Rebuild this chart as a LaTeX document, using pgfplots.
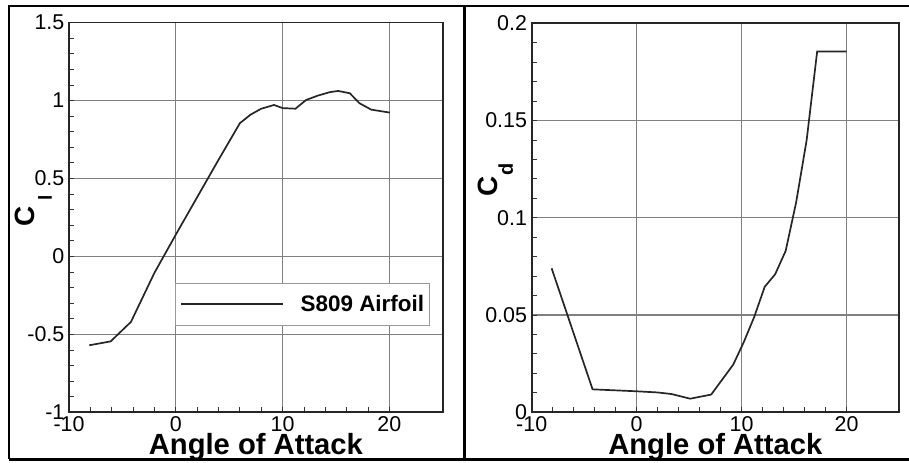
\documentclass[border=0pt]{standalone}
\usepackage{fontspec}
\setmainfont{Liberation Sans}
\usepackage{pgfplots}
\pgfplotsset{compat=1.18}

% S809 airfoil: lift coefficient vs angle of attack
\pgfplotstableread{
aoa   cl
-8.1  -0.570
-6.1  -0.545
-4.2  -0.420
-2.0  -0.105
 0.0   0.140
 2.0   0.380
 4.0   0.620
 6.0   0.855
 7.0   0.910
 8.0   0.948
 9.2   0.972
10.0   0.952
11.2   0.948
12.2   1.004
13.3   1.032
14.4   1.054
15.2   1.062
16.3   1.047
17.2   0.983
18.3   0.942
20.05  0.923
}\liftdata

% S809 airfoil: drag coefficient vs angle of attack
\pgfplotstableread{
aoa   cd
-8.1  0.0740
-4.2  0.0118
 0.0  0.0108
 2.0  0.0102
 3.3  0.0094
 5.1  0.0070
 7.1  0.0091
 9.2  0.0245
10.2  0.0360
11.2  0.0490
12.2  0.0645
13.2  0.0710
14.2  0.0830
15.2  0.1080
16.2  0.1400
17.2  0.1855
20.0  0.1855
}\dragdata

\pgfplotsset{
  polarstyle/.style={
    scale only axis,
    anchor=south west,
    xmin=-10, xmax=25,
    xtick={-10,0,10,20},
    minor tick num=4,
    tick pos=left,
    tick align=inside,
    major tick length=5bp,
    minor tick length=5bp,
    every tick/.style={black!80, line width=0.9bp},
    grid=major,
    major grid style={black!50, line width=1.1bp},
    axis line style={black!85, line width=1.6bp},
    /pgf/number format/assume math mode=true,
    tick label style={font=\fontsize{21.5}{21.5}\selectfont, inner sep=0pt},
    xticklabel style={anchor=north, yshift=-4.5bp},
    yticklabel style={anchor=east, xshift=-4.5bp},
    xlabel={Angle of Attack},
    xlabel style={font=\fontsize{29.3}{29.3}\selectfont\bfseries,
      at={(axis description cs:0.5,0)}, anchor=base, yshift=-42.7bp, inner sep=0pt},
    ylabel style={inner sep=0pt, anchor=base west, rotate=0},
  },
  curve/.style={black!85, line width=1.7bp, no markers},
}

\begin{document}
\begin{tikzpicture}[x=1bp, y=1bp]
\useasboundingbox (0,0) rectangle (909,463);

% panel frames
\draw[line width=2bp] (9,3.5) -- (9,457.2) -- (915,457.2);
\draw[line width=2.5bp] (9,3.5) -- (915,3.5);
\draw[line width=2.5bp] (464.5,3.5) -- (464.5,457.2);

% lift coefficient
\begin{axis}[polarstyle,
  at={(69bp,50.7bp)},
  width=373.8bp, height=389.6bp,
  ymin=-1, ymax=1.5,
  ytick={-1,-0.5,0,0.5,1,1.5},
  yticklabels={-1,-0.5,0,0.5,1,1.5},
  ylabel={\fontsize{28}{28}\selectfont\bfseries C\hspace{6bp}\raisebox{-17bp}{\fontsize{19}{19}\selectfont l}},
  ylabel style={at={(axis description cs:-0.091,0.4756)}},
  legend style={at={(axis description cs:0.2836,0.3319)}, anchor=north west,
    draw=black!40, line width=0.8bp, fill=white,
    inner xsep=5bp, inner ysep=12bp,
    font=\fontsize{22.5}{22.5}\selectfont\bfseries,
    nodes={inner sep=0pt},
    /tikz/every odd column/.append style={column sep=17bp}},
  legend image code/.code={\draw[#1] (0bp,0bp) -- (101.6bp,0bp);},
]
\addplot[curve] table[x=aoa, y=cl] {\liftdata};
\addlegendentry{S809 Airfoil}
\end{axis}

% drag coefficient
\begin{axis}[polarstyle,
  at={(531.7bp,50.7bp)},
  width=367.3bp, height=389bp,
  ymin=0, ymax=0.2,
  ytick={0,0.05,0.1,0.15,0.2},
  yticklabels={0,0.05,0.1,0.15,0.2},
  ylabel={\fontsize{28}{28}\selectfont\bfseries C\hspace{1bp}\raisebox{-15bp}{\fontsize{20}{20}\selectfont d}},
  ylabel style={at={(axis description cs:-0.0918,0.5535)}},
]
\addplot[curve] table[x=aoa, y=cd] {\dragdata};
\end{axis}
\end{tikzpicture}
\end{document}
